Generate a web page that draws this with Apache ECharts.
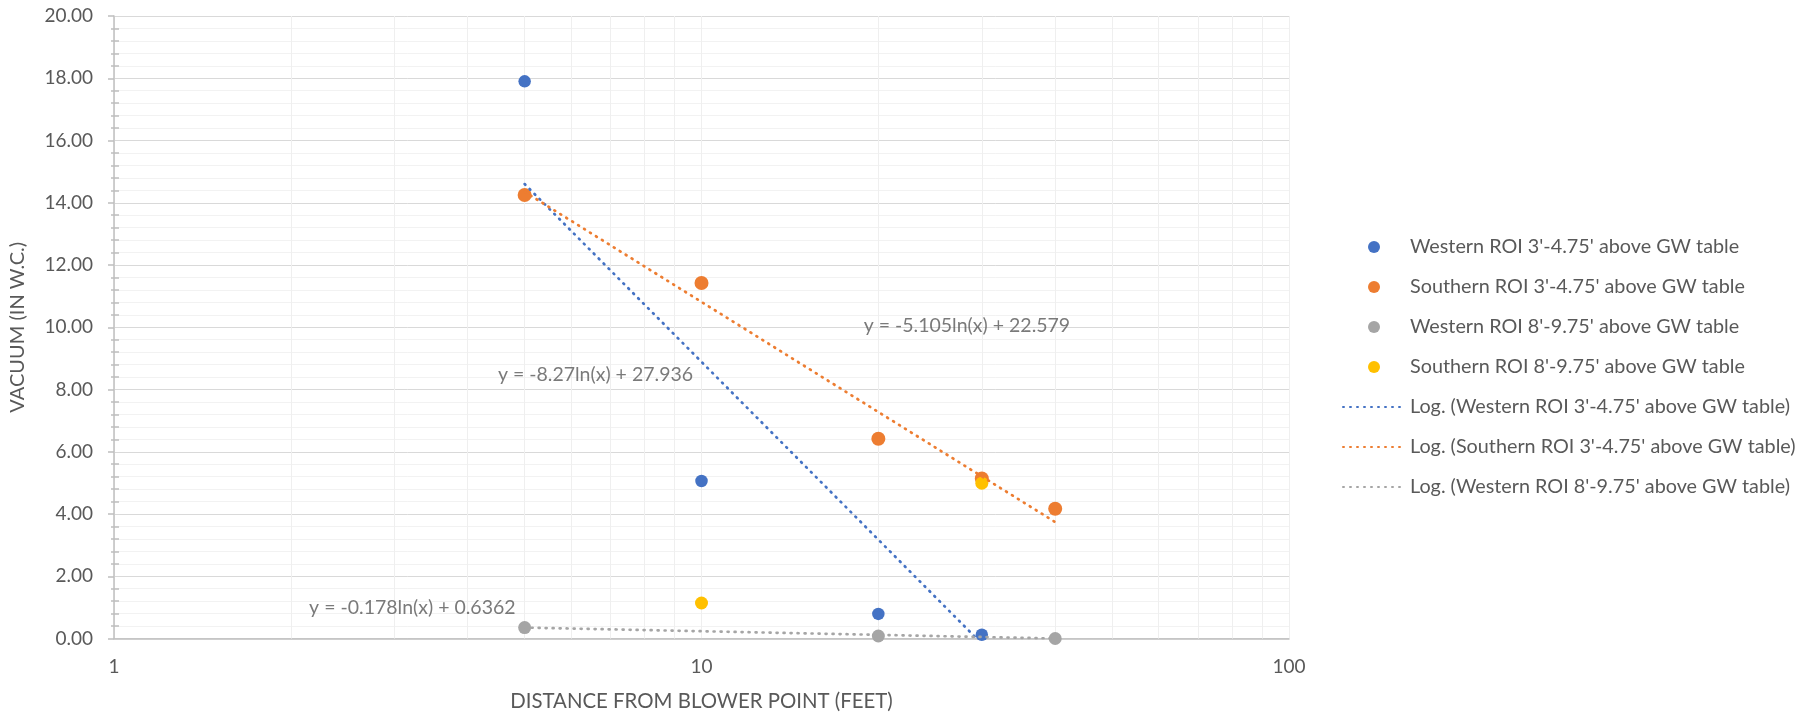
<!DOCTYPE html>
<html>
<head>
<meta charset="utf-8">
<script src="https://cdn.jsdelivr.net/npm/echarts@6/dist/echarts.min.js"></script>
<style>
html,body{margin:0;padding:0;background:#fff;}
#c{width:1816px;height:717px;}
</style>
</head>
<body>
<div id="c"></div>
<script>
// ---- data ----
const seriesNames = [
  "Western ROI 3'-4.75' above GW table",
  "Southern ROI 3'-4.75' above GW table",
  "Western ROI 8'-9.75' above GW table",
  "Southern ROI 8'-9.75' above GW table"
];
const trendNames = [
  "Log. (Western ROI 3'-4.75' above GW table)",
  "Log. (Southern ROI 3'-4.75' above GW table)",
  "Log. (Western ROI 8'-9.75' above GW table)"
];
const westernShallowX = [5, 10, 20, 30];
const westernShallowY = [17.9, 5.06, 0.79, 0.12];
const southernShallowX = [5, 10, 20, 30, 40];
const southernShallowY = [14.25, 11.42, 6.42, 5.14, 4.17];
const westernDeepX = [5, 20, 40];
const westernDeepY = [0.35, 0.08, 0.0];
const southernDeepX = [10, 30];
const southernDeepY = [1.14, 4.99];

// trend line end points (log fit is straight on a log x axis)
const trendWesternShallowX = [5, 29.4];
const trendWesternShallowY = [14.6, 0];
const trendSouthernShallowX = [5, 40];
const trendSouthernShallowY = [14.35, 3.74];
const trendWesternDeepX = [5, 40];
const trendWesternDeepY = [0.35, 0];

const equationTexts = [
  "y = -8.27ln(x) + 27.936",
  "y = -5.105ln(x) + 22.579",
  "y = -0.178ln(x) + 0.6362"
];
const equationX = [6.6, 28.3, 3.22];
const equationY = [8.48, 10.05, 0.98];

const xMinorGrid = [2, 3, 4, 5, 6, 7, 8, 9, 20, 30, 40, 50, 60, 70, 80, 90];
const xAxisName = "DISTANCE FROM BLOWER POINT (FEET)";
const yAxisName = "VACUUM (IN W.C.)";

const colors = ['#4472C4', '#ED7D31', '#A5A5A5', '#FFC000'];
const textColor = '#595959';
const FONT = 'Lato';

function zip(xs, ys) { return xs.map((x, i) => [x, ys[i]]); }

const chart = echarts.init(document.getElementById('c'), null, {renderer: 'canvas'});

const scatterSizes = [12.5, 14, 13, 13];
const scatterData = [
  zip(westernShallowX, westernShallowY),
  zip(southernShallowX, southernShallowY),
  zip(westernDeepX, westernDeepY),
  zip(southernDeepX, southernDeepY)
];
const trendData = [
  zip(trendWesternShallowX, trendWesternShallowY),
  zip(trendSouthernShallowX, trendSouthernShallowY),
  zip(trendWesternDeepX, trendWesternDeepY)
];

const series = [];
// vertical minor gridlines for the log axis
series.push({
  type: 'line', data: [], silent: true, z: 0,
  markLine: {
    silent: true, symbol: ['none', 'none'], animation: false, z: 1,
    label: {show: false},
    lineStyle: {color: '#EFEFEF', width: 1, type: 'solid'},
    data: xMinorGrid.map(v => ({xAxis: v}))
  }
});
scatterData.forEach((d, i) => {
  series.push({
    name: seriesNames[i], type: 'scatter', data: d,
    symbol: 'circle', symbolSize: scatterSizes[i],
    itemStyle: {color: colors[i], opacity: 1}, z: 3
  });
});
trendData.forEach((d, i) => {
  series.push({
    name: trendNames[i], type: 'line', data: d,
    symbol: 'none', showSymbol: false,
    lineStyle: {color: colors[i], width: 2.7, type: [1, 6], cap: 'round'},
    itemStyle: {color: colors[i], opacity: 0},
    z: 4
  });
});
series.push({
  type: 'scatter', name: 'eq', silent: true,
  data: equationX.map((x, i) => ({value: [x, equationY[i]], label: {formatter: equationTexts[i]}})),
  symbolSize: 0,
  label: {show: true, position: 'inside', color: textColor, fontFamily: FONT, fontSize: 19.5},
  z: 5
});

const yAxisBase = {
  type: 'value', min: 0, max: 20, interval: 2, position: 'left'
};

chart.setOption({
  animation: false,
  backgroundColor: '#ffffff',
  textStyle: {fontFamily: FONT},
  grid: {left: 114, top: 16, width: 1175, height: 622.5, containLabel: false},
  legend: {
    orient: 'vertical', left: 1342, top: 237, padding: 0,
    itemWidth: 62, itemHeight: 12, itemGap: 20,
    textStyle: {color: textColor, fontSize: 19.8, fontFamily: FONT, lineHeight: 20},
    data: [
      {name: seriesNames[0], icon: 'circle'},
      {name: seriesNames[1], icon: 'circle'},
      {name: seriesNames[2], icon: 'circle'},
      {name: seriesNames[3], icon: 'circle'},
      {name: trendNames[0], itemStyle: {opacity: 0}},
      {name: trendNames[1], itemStyle: {opacity: 0}},
      {name: trendNames[2], itemStyle: {opacity: 0}}
    ]
  },
  xAxis: {
    type: 'log', logBase: 10, min: 1, max: 100,
    name: xAxisName, nameLocation: 'middle', nameGap: 53,
    nameTextStyle: {color: textColor, fontSize: 20.4, fontFamily: FONT},
    axisLine: {show: true, lineStyle: {color: '#BFBFBF', width: 1.5}},
    axisTick: {show: false},
    axisLabel: {color: textColor, fontSize: 19, fontFamily: FONT, margin: 19},
    splitLine: {show: true, lineStyle: {color: '#EFEFEF', width: 1}},
    minorTick: {show: false}, minorSplitLine: {show: false}
  },
  yAxis: [
    Object.assign({}, yAxisBase, {
      name: yAxisName, nameLocation: 'middle', nameGap: 86, nameRotate: 90,
      nameTextStyle: {color: textColor, fontSize: 20, fontFamily: FONT},
      axisLine: {show: true, lineStyle: {color: '#BFBFBF', width: 1.5}},
      axisTick: {show: true, length: 6, inside: false, lineStyle: {color: '#BFBFBF', width: 1.5}},
      minorTick: {show: true, splitNumber: 5, length: 3, lineStyle: {color: '#BFBFBF', width: 1.5}},
      axisLabel: {color: textColor, fontSize: 19, fontFamily: FONT, margin: 21,
        formatter: v => v.toFixed(2)},
      splitLine: {show: true, lineStyle: {color: '#D9D9D9', width: 1}},
      minorSplitLine: {show: true, lineStyle: {color: '#F2F2F2', width: 1}}
    }),
    Object.assign({}, yAxisBase, {
      axisLine: {show: false},
      axisTick: {show: false, inside: true},
      minorTick: {show: true, splitNumber: 5, length: 5, lineStyle: {color: '#BFBFBF', width: 1.5}},
      axisLabel: {show: false},
      splitLine: {show: false},
      minorSplitLine: {show: false}
    })
  ],
  series: series
});
</script>
</body>
</html>
